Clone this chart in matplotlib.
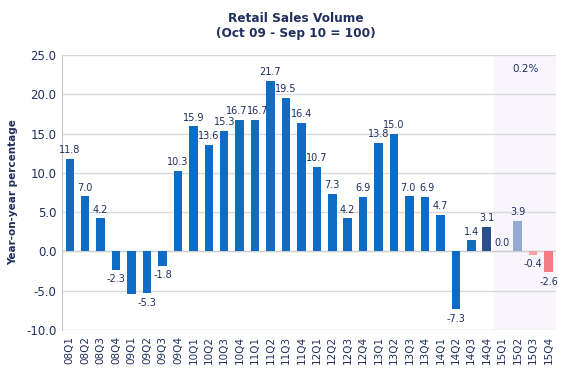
import numpy as np
import matplotlib
matplotlib.use("Agg")
import matplotlib.pyplot as plt

quarters = ["08Q1", "08Q2", "08Q3", "08Q4", "09Q1", "09Q2", "09Q3", "09Q4",
            "10Q1", "10Q2", "10Q3", "10Q4", "11Q1", "11Q2", "11Q3", "11Q4",
            "12Q1", "12Q2", "12Q3", "12Q4", "13Q1", "13Q2", "13Q3", "13Q4",
            "14Q1", "14Q2", "14Q3", "14Q4", "15Q1", "15Q2", "15Q3", "15Q4"]
values = [11.8, 7.0, 4.2, -2.3, -5.4, -5.3, -1.8, 10.3,
          15.9, 13.6, 15.3, 16.7, 16.7, 21.7, 19.5, 16.4,
          10.7, 7.3, 4.2, 6.9, 13.8, 15.0, 7.0, 6.9,
          4.7, -7.3, 1.4, 3.1, 0.0, 3.9, -0.4, -2.6]
# 09Q1 has no data label in the original
show_label = [True] * 32
show_label[4] = False
forecast_note = "0.2%"

navy = "#1f2f5e"
colors = ["#0f6cc4"] * 32
colors[27] = "#2b4f8c"
colors[29] = "#93a9cf"
colors[30] = "#f4a0a4"
colors[31] = "#f37c83"

fig = plt.figure(figsize=(5.8, 3.87), dpi=100)
ax = fig.add_axes([0.107, 0.147, 0.852, 0.711])

x = np.arange(len(quarters))
ax.axvspan(27.5, 31.5, color="#f8f6fc", zorder=0)
ax.bar(x, values, width=0.55, color=colors, edgecolor="none", zorder=3)

# small sideways nudges so neighbouring labels don't collide
nudge = {11: -0.2, 12: 0.2, 22: -0.12, 23: 0.12}
for i, v in enumerate(values):
    if not show_label[i]:
        continue
    off = 0.5 if v >= 0 else -0.6
    ax.text(i + nudge.get(i, 0), v + off, "%.1f" % v, ha="center",
            va="bottom" if v >= 0 else "top", fontsize=7, color=navy, zorder=4)

ax.text(29.5, 23.2, forecast_note, ha="center", va="center", fontsize=7.5, color=navy)

ax.set_xlim(-0.5, 31.5)
ax.set_ylim(-10, 25)
ax.set_yticks(np.arange(-10, 26, 5))
ax.set_yticklabels(["%.1f" % t for t in np.arange(-10, 26, 5)], fontsize=8.5, color=navy)
ax.set_xticks(x)
ax.set_xticklabels(quarters, rotation=90, fontsize=7.5, color=navy)
ax.tick_params(axis="both", length=0, pad=4)
ax.grid(axis="y", color="#d9d9d9", linewidth=1, zorder=1)
for s in ["top", "right", "bottom"]:
    ax.spines[s].set_visible(False)
ax.spines["left"].set_color("#c8c8c8")
ax.axhline(0, color="#d0d0d0", linewidth=1, zorder=2)

ax.set_ylabel("Year-on-year percentage", fontsize=7.5, fontweight="bold", color=navy, labelpad=6)
fig.text(0.51, 0.97, "Retail Sales Volume\n(Oct 09 - Sep 10 = 100)", ha="center", va="top",
         fontsize=8.7, fontweight="bold", color=navy, linespacing=1.25)

fig.savefig("out.png", dpi=100)
